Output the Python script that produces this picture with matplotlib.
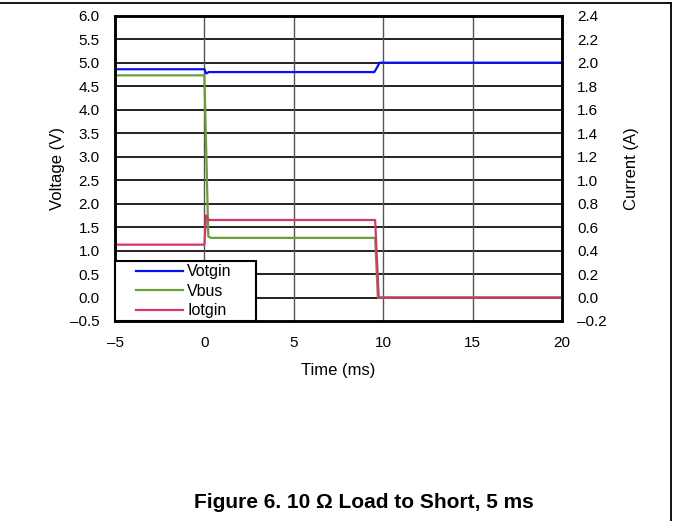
import numpy as np
import matplotlib
matplotlib.use('Agg')
import matplotlib.pyplot as plt
from matplotlib.lines import Line2D
from matplotlib.legend_handler import HandlerLine2D

plt.rcParams['font.family'] = ['Liberation Sans', 'DejaVu Sans']

t_votgin = [-5, 0.0, 0.1, 0.25, 9.5, 9.6, 9.8, 20]
votgin = [4.86, 4.86, 4.77, 4.80, 4.80, 4.86, 5.0, 5.0]

t_vbus = [-5, 0.0, 0.22, 0.35, 9.55, 9.7, 20]
vbus = [4.73, 4.73, 1.30, 1.27, 1.27, 0.0, 0.0]

t_iotgin = [-5, 0.0, 0.1, 0.25, 9.55, 9.75, 20]
iotgin = [0.45, 0.45, 0.70, 0.66, 0.66, 0.0, 0.0]

x_ticks = [-5, 0, 5, 10, 15, 20]
v_ticks = np.arange(-0.5, 6.01, 0.5)
i_ticks = np.arange(-0.2, 2.41, 0.2)

c_blue = '#0a10f5'
c_green = '#6a9e3a'
c_pink = '#d3386b'


class OffsetLine(HandlerLine2D):
    # push the legend line to the right, like the original box
    def get_xdata(self, legend, xdescent, ydescent, width, height, fontsize):
        x = np.array([-xdescent + 1.14 * fontsize, width])
        return x, x


def dash(s):
    return s.replace('-', '\u2013')


fig = plt.figure(figsize=(6.73, 5.21), dpi=100)
ax = fig.add_axes([115 / 673, 1 - 321 / 521, (562 - 115) / 673, (321 - 15.7) / 521])
ax2 = ax.twinx()

ax.plot(t_votgin, votgin, color=c_blue, lw=1.6, label='Votgin')
ax.plot(t_vbus, vbus, color=c_green, lw=1.6, label='Vbus')
ax2.plot(t_iotgin, iotgin, color=c_pink, lw=1.6, label='Iotgin')

ax.set_xlim(-5, 20)
ax.set_ylim(-0.5, 6.0)
ax2.set_ylim(-0.2, 2.4)
ax.set_xticks(x_ticks)
ax.set_yticks(v_ticks)
ax2.set_yticks(i_ticks)
ax.set_yticklabels([dash(f'{v:.1f}') for v in v_ticks])
ax2.set_yticklabels([dash(f'{v:.1f}') for v in i_ticks])
ax.set_xticklabels([dash(str(v)) for v in x_ticks])

# grid
for v in v_ticks[1:-1]:
    ax.axhline(v, color='#111111', lw=1.3, zorder=0.5)
for x in x_ticks[1:-1]:
    ax.axvline(x, color='#555555', lw=1.0, zorder=0.5)

for a in (ax, ax2):
    a.tick_params(axis='y', length=0, labelsize=11, pad=11)
    for s in a.spines.values():
        s.set_linewidth(1.8)
        s.set_color('black')
ax.tick_params(axis='x', length=0, labelsize=11, pad=11)

ax.set_xlabel('Time (ms)', fontsize=12, labelpad=9)
ax.set_ylabel('Voltage (V)', fontsize=12, labelpad=4)
ax2.set_ylabel('Current (A)', fontsize=12, labelpad=12)

h1, l1 = ax.get_legend_handles_labels()
h2, l2 = ax2.get_legend_handles_labels()
leg = ax2.legend(h1 + h2, l1 + l2, loc='lower left', bbox_to_anchor=(0, 0, 0.315, 0.197),
                 mode='expand', borderaxespad=0, borderpad=0.18, labelspacing=0.275,
                 handlelength=4.08, handletextpad=0.25, fontsize=11.5, fancybox=False,
                 framealpha=1, edgecolor='black',
                 handler_map={Line2D: OffsetLine()})
leg.get_frame().set_linewidth(1.5)

# page border bits
fig.add_artist(Line2D([0, 671 / 673], [1 - 3 / 521, 1 - 3 / 521], color='black', lw=1.3,
                      transform=fig.transFigure))
fig.add_artist(Line2D([671 / 673, 671 / 673], [0, 1 - 3 / 521], color='black', lw=1.3,
                      transform=fig.transFigure))

fig.text(364 / 673, 1 - 503 / 521, 'Figure 6. 10 \u03a9 Load to Short, 5 ms',
         ha='center', va='center', fontsize=15, fontweight='bold')

fig.savefig('out.png', dpi=100)
